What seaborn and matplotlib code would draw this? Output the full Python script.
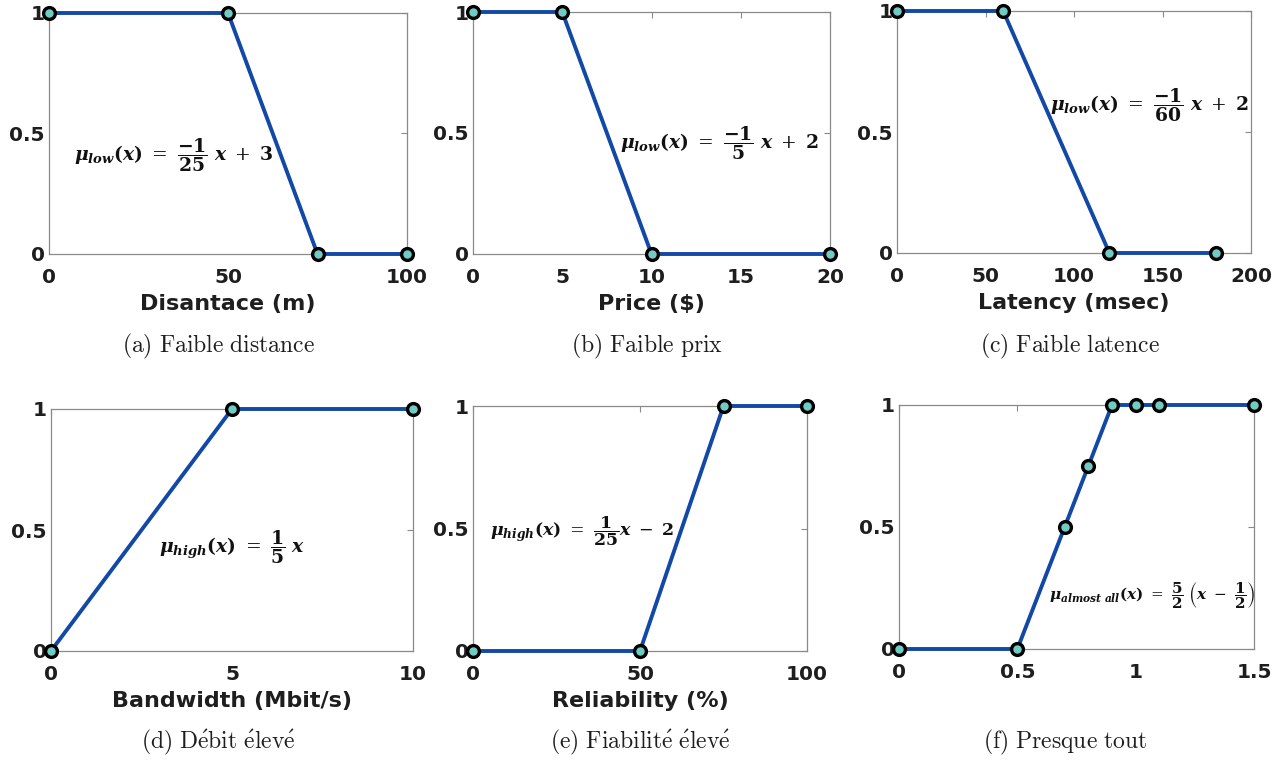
import matplotlib
matplotlib.use("Agg")
import matplotlib.pyplot as plt
import seaborn as sns
import pandas as pd

# ---- data ----
dist_x = [0, 50, 75, 100]
dist_y = [1, 1, 0, 0]
price_x = [0, 5, 10, 20]
price_y = [1, 1, 0, 0]
lat_x = [0, 60, 120, 180]
lat_y = [1, 1, 0, 0]
bw_x = [0, 5, 10]
bw_y = [0, 1, 1]
rel_x = [0, 50, 75, 100]
rel_y = [0, 0, 1, 1]
alm_x = [0, 0.5, 0.7, 0.8, 0.9, 1.0, 1.1, 1.5]
alm_y = [0, 0, 0.5, 0.75, 1, 1, 1, 1]

xlabels = ["Disantace (m)", "Price ($)", "Latency (msec)",
           "Bandwidth (Mbit/s)", "Reliability (%)", ""]
captions = [r"$\mathrm{(a)\ Faible\ distance}$", r"$\mathrm{(b)\ Faible\ prix}$",
            r"$\mathrm{(c)\ Faible\ latence}$", r"$\mathrm{(d)\ D\acute{e}bit\ \acute{e}lev\acute{e}}$",
            r"$\mathrm{(e)\ Fiabilit\acute{e}\ \acute{e}lev\acute{e}}$", r"$\mathrm{(f)\ Presque\ tout}$"]
xticks = [[0, 50, 100], [0, 5, 10, 15, 20], [0, 50, 100, 150, 200],
          [0, 5, 10], [0, 50, 100], [0, 0.5, 1, 1.5]]
xticklabels = [["0", "50", "100"], ["0", "5", "10", "15", "20"],
               ["0", "50", "100", "150", "200"], ["0", "5", "10"],
               ["0", "50", "100"], ["0", "0.5", "1", "1.5"]]
yticks = [0, 0.5, 1]
yticklabels = ["0", "0.5", "1"]
xlims = [(0, 100), (0, 20), (0, 200), (0, 10), (0, 100), (0, 1.5)]
equations = [
    r"$\mathbfit{\mu_{low}}\mathbf{(}\mathbfit{x}\mathbf{)}\ =\ \dfrac{\mathbf{-1}}{\mathbf{25}}\ \mathbfit{x}\ +\ \mathbf{3}$",
    r"$\mathbfit{\mu_{low}}\mathbf{(}\mathbfit{x}\mathbf{)}\ =\ \dfrac{\mathbf{-1}}{\mathbf{5}}\ \mathbfit{x}\ +\ \mathbf{2}$",
    r"$\mathbfit{\mu_{low}}\mathbf{(}\mathbfit{x}\mathbf{)}\ =\ \dfrac{\mathbf{-1}}{\mathbf{60}}\ \mathbfit{x}\ +\ \mathbf{2}$",
    r"$\mathbfit{\mu_{high}}\mathbf{(}\mathbfit{x}\mathbf{)}\ =\ \dfrac{\mathbf{1}}{\mathbf{5}}\ \mathbfit{x}$",
    r"$\mathbfit{\mu_{high}}\mathbf{(}\mathbfit{x}\mathbf{)}\ =\ \dfrac{\mathbf{1}}{\mathbf{25}}\mathbfit{x}\ -\ \mathbf{2}$",
    r"$\mathbfit{\mu_{almost\ all}}\mathbf{(}\mathbfit{x}\mathbf{)}\ =\ \dfrac{\mathbf{5}}{\mathbf{2}}\ \left(\mathbfit{x}\ -\ \dfrac{\mathbf{1}}{\mathbf{2}}\right)$",
]
eq_pos = [(35.0, 0.41), (13.8, 0.46), (143, 0.61), (5.0, 0.43), (32.6, 0.49), (1.07, 0.22)]
eq_size = [13.5, 13.5, 13.5, 13.5, 12.5, 11]

series = [(dist_x, dist_y), (price_x, price_y), (lat_x, lat_y),
          (bw_x, bw_y), (rel_x, rel_y), (alm_x, alm_y)]

# ---- layout (pixel boxes: left, right, top, bottom) ----
W, H = 1287, 762
boxes = [(49, 407, 13, 254), (473, 830, 12, 254), (897, 1251, 11, 253),
         (51, 413, 409, 651), (473, 807, 406, 651), (899, 1254, 405, 649)]
cap_pos = [(219, 346), (647, 346), (1070, 346), (218, 742), (640, 742), (1065, 742)]

sns.set_style("white")
plt.rcParams["mathtext.fontset"] = "dejavuserif"
plt.rcParams["font.family"] = ["DejaVu Sans"]

LINE = "#1248A6"
FACE = "#6FCBC3"
SPINE = "#8A8A8A"
TXT = "#1E1E1E"

fig = plt.figure(figsize=(W / 100, H / 100), dpi=100)

for i, (xs, ys) in enumerate(series):
    l, r, t, b = boxes[i]
    ax = fig.add_axes([l / W, 1 - b / H, (r - l) / W, (b - t) / H])
    df = pd.DataFrame({"x": xs, "y": ys})
    sns.lineplot(data=df, x="x", y="y", ax=ax, color=LINE, linewidth=2.8,
                 marker="o", markersize=8.5, markerfacecolor=FACE,
                 markeredgecolor="black", markeredgewidth=2.4,
                 sort=False, estimator=None, clip_on=False, zorder=5)
    ax.set_xlim(*xlims[i])
    ax.set_ylim(0, 1)
    ax.set_xticks(xticks[i])
    ax.set_xticklabels(xticklabels[i])
    ax.set_yticks(yticks)
    ax.set_yticklabels(yticklabels)
    for s in ax.spines.values():
        s.set_color(SPINE)
        s.set_linewidth(0.9)
        s.set_visible(True)
    ax.tick_params(direction="in", top=True, right=True, length=4, width=0.8,
                   color=SPINE, labelcolor=TXT)
    ax.tick_params(axis="x", pad=10, labelsize=14.5)
    ax.tick_params(axis="y", pad=3, labelsize=14.5)
    for lab in ax.get_xticklabels() + ax.get_yticklabels():
        lab.set_fontweight("bold")
    ax.set_xlabel(xlabels[i], fontsize=16, fontweight="bold", color=TXT, labelpad=5)
    ax.set_ylabel("")
    ax.text(eq_pos[i][0], eq_pos[i][1], equations[i], fontsize=eq_size[i],
            ha="center", va="center", color="#111111", zorder=6)
    cx, cy = cap_pos[i]
    fig.text(cx / W, 1 - cy / H, captions[i], fontsize=17, ha="center", va="center",
             math_fontfamily="cm", color=TXT)

fig.savefig("out.png", dpi=100)
